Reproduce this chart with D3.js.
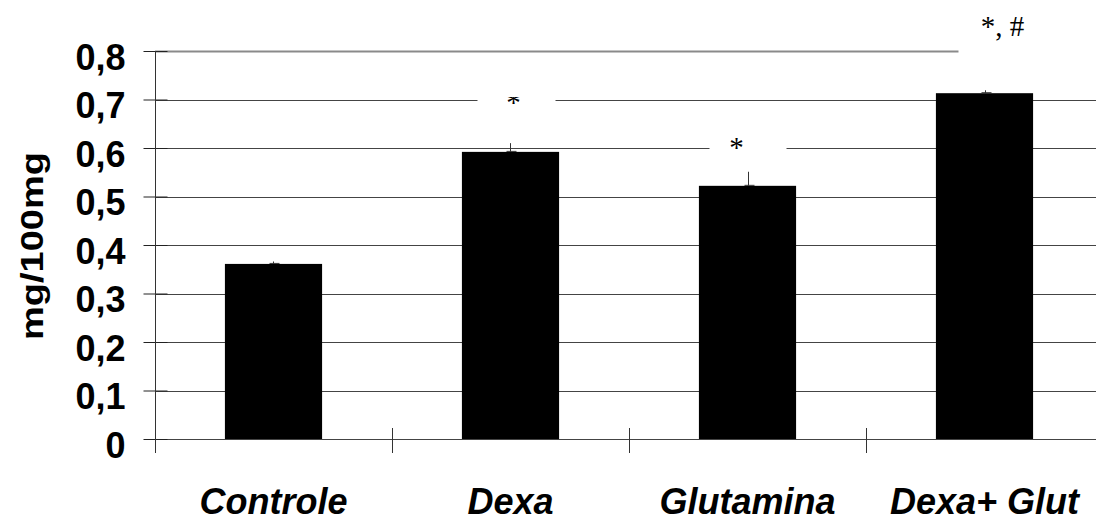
<!DOCTYPE html>
<html><head><meta charset="utf-8">
<script src="https://cdn.jsdelivr.net/npm/d3@7"></script>
<style>body{margin:0;background:#fff}svg{display:block}</style>
</head><body><svg id="c" width="1096" height="522"></svg>
<script>
// ---- data ----
const categories = ["Controle", "Dexa", "Glutamina", "Dexa+ Glut"];
const values = [0.361, 0.592, 0.522, 0.713];
const errors = [0.005, 0.018, 0.029, 0.006];
const yTicks = [0, 0.1, 0.2, 0.3, 0.4, 0.5, 0.6, 0.7, 0.8];
const yTickLabels = ["0", "0,1", "0,2", "0,3", "0,4", "0,5", "0,6", "0,7", "0,8"];
const marks = ["", "*", "*", "*, #"];
const markLevels = [0, 0.674, 0.582, 0.831]; // text baseline, data units
const yTitle = "mg/100mg";

// ---- layout (styles/positions) ----
const L = {left: 155, right: 1103, bottom: 439, top: 51};
const markLayout = [
  null,
  {dx: 3, boxL: -33, boxR: 45, up: 15, down: 5, clip: true},
  {dx: -11, boxL: -38, boxR: 39, up: 15, down: 5, clip: false},
  {dx: 18, boxL: -26, boxR: 160, up: 15, down: 20, clip: false}
];

const svg = d3.select("#c");
const y = d3.scaleLinear().domain([0, 0.8]).range([L.bottom, L.top]);
const x = d3.scaleBand().domain(categories).range([L.left, L.right])
  .paddingInner(0.59).paddingOuter(0.295);
const xb = d3.scaleBand().domain(categories).range([L.left, L.right]);
const cx = c => x(c) + x.bandwidth() / 2;

// grid lines
svg.append("g").selectAll("line").data(yTicks.slice(1)).join("line")
  .attr("x1", L.left).attr("x2", L.right)
  .attr("y1", d => Math.round(y(d)) + 0.5).attr("y2", d => Math.round(y(d)) + 0.5)
  .attr("stroke", d => d === 0.8 ? "#8a8a8a" : "#444")
  .attr("stroke-width", d => d === 0.8 ? 2 : 1);

// bars
svg.append("g").selectAll("rect").data(categories).join("rect")
  .attr("x", c => x(c)).attr("width", x.bandwidth())
  .attr("y", (c, i) => y(values[i])).attr("height", (c, i) => y(0) - y(values[i]))
  .attr("fill", "#000");

// error bars
const eb = svg.append("g").attr("stroke", "#333").attr("stroke-width", 1);
categories.forEach((c, i) => {
  const xc = Math.round(cx(c)) + 0.5;
  eb.append("line").attr("x1", xc).attr("x2", xc)
    .attr("y1", y(values[i])).attr("y2", y(values[i] + errors[i]));
  eb.append("line").attr("x1", xc - 4).attr("x2", xc + 6)
    .attr("y1", y(values[i]) - 0.5).attr("y2", y(values[i]) - 0.5);
});

// x axis baseline
svg.append("line").attr("x1", L.left).attr("x2", L.right)
  .attr("y1", L.bottom + 0.5).attr("y2", L.bottom + 0.5)
  .attr("stroke", "#444").attr("stroke-width", 1);
// x boundary ticks
const bounds = categories.map(c => xb(c));
svg.append("g").selectAll("line").data(bounds.slice(1)).join("line")
  .attr("x1", d => Math.round(d) + 0.5).attr("x2", d => Math.round(d) + 0.5)
  .attr("y1", L.bottom - 11).attr("y2", L.bottom + 14)
  .attr("stroke", "#333");

// y axis
const ya = svg.append("g").attr("transform", `translate(${L.left + 0.5},0)`)
  .call(d3.axisLeft(y).tickValues(yTicks).tickFormat((d, i) => yTickLabels[i])
    .tickSizeInner(12).tickSizeOuter(0).tickPadding(18));
ya.select(".domain").remove();
ya.selectAll(".tick line").attr("x1", -12).attr("x2", 12).attr("stroke", "#222");
ya.selectAll(".tick text")
  .attr("font-family", "'Liberation Sans', Arial, sans-serif")
  .attr("font-weight", "bold").attr("font-size", 36).attr("dy", "0.5em").attr("fill", "#000");
svg.append("line").attr("x1", L.left + 0.5).attr("x2", L.left + 0.5)
  .attr("y1", L.top).attr("y2", L.bottom + 14).attr("stroke", "#333");

// x labels
svg.append("g").selectAll("text").data(categories).join("text")
  .attr("x", c => cx(c)).attr("y", 514)
  .attr("text-anchor", "middle")
  .attr("font-family", "'Liberation Sans', Arial, sans-serif")
  .attr("font-weight", "bold").attr("font-style", "italic").attr("font-size", 36)
  .text(c => c);

// y title
svg.append("text")
  .attr("transform", `translate(43,246) rotate(-90)`)
  .attr("text-anchor", "middle")
  .attr("font-family", "'Liberation Sans', Arial, sans-serif")
  .attr("font-weight", "bold").attr("font-size", 31)
  .attr("textLength", 188).attr("lengthAdjust", "spacingAndGlyphs")
  .text(yTitle);

// significance marks with white boxes
const defs = svg.append("defs");
categories.forEach((c, i) => {
  const m = markLayout[i];
  if (!m || !marks[i]) return;
  const base = y(markLevels[i]);
  const bx = cx(c) + m.boxL, bw = m.boxR - m.boxL;
  svg.append("rect").attr("x", bx).attr("y", base - m.up).attr("width", bw)
    .attr("height", m.up + m.down).attr("fill", "#fff");
  const t = svg.append("text").attr("x", cx(c) + m.dx).attr("y", base)
    .attr("text-anchor", "middle")
    .attr("font-family", "'Liberation Serif', 'Times New Roman', serif")
    .attr("font-size", 29).text(marks[i]);
  if (m.clip) {
    const id = "clip" + i;
    defs.append("clipPath").attr("id", id).append("rect")
      .attr("x", bx).attr("y", base - m.up).attr("width", bw).attr("height", m.up + m.down);
    t.attr("clip-path", `url(#${id})`);
  }
});
</script></body></html>
